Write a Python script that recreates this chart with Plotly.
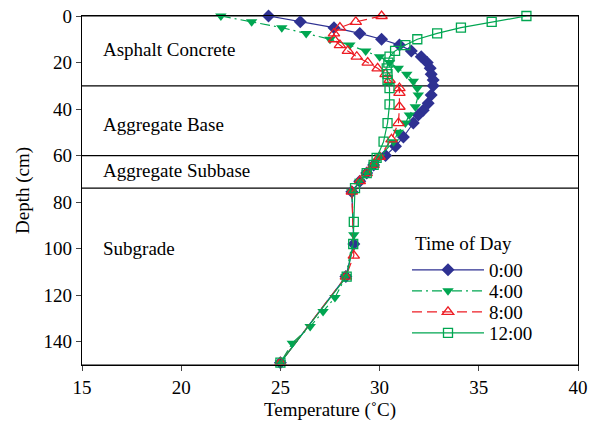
import plotly.graph_objects as go

# ---- data ----
depth_0000 = [0, 2.5, 5, 7.5, 10, 12.5, 15, 17.5, 20, 22.5, 25, 27.5, 30, 34, 37.5, 40.5, 42.5, 46, 52, 56, 60,
              64, 67.5, 71, 75.5, 98, 112, 149]
temp_0000 = [24.4, 26.0, 27.7, 29.0, 30.1, 31.0, 31.6, 32.1, 32.4, 32.55, 32.6, 32.7, 32.7, 32.6, 32.45, 32.2, 31.95,
             31.7, 31.2, 30.8, 30.3, 29.7, 29.35, 29.0, 28.6, 28.7, 28.3, 25.0]

depth_0400 = [0, 2.5, 5, 7.5, 10, 12.5, 15, 17.5, 20, 22.5, 25, 28, 31, 34, 39, 42.5, 46, 50, 54, 60.5,
              64, 67.5, 71, 75.5, 94, 112, 121, 127, 133.5, 140.6, 149]
temp_0400 = [22.0, 23.55, 25.07, 26.3, 27.5, 28.5, 29.3, 30.0, 30.5, 30.94, 31.37, 31.7, 31.9, 31.95, 31.8, 31.5,
             31.3, 30.94, 30.7, 30.0, 29.7, 29.35, 29.0, 28.6, 28.7, 28.3, 27.75, 27.15, 26.5, 25.6, 25.0]

depth_0800 = [0, 2.5, 5, 7.5, 10, 12.5, 15, 17.5, 20, 22.5, 25, 27.5, 31, 33, 39, 46, 53, 60.5,
              64, 67.5, 71, 75.5, 103, 112, 149]
temp_0800 = [30.1, 28.8, 28.0, 27.7, 27.7, 28.0, 28.4, 28.85, 29.4, 29.9, 30.3, 30.5, 31.0, 31.0, 31.0, 30.95,
             30.6, 30.0, 29.7, 29.35, 29.0, 28.6, 28.7, 28.3, 25.0]

depth_1200 = [0, 2.5, 5, 7.5, 10, 12.5, 15, 17.5, 20, 22.5, 25, 27.5, 31, 38, 46, 54, 61,
              64, 67.5, 74, 88.5, 98, 112, 149]
temp_1200 = [37.4, 35.65, 34.1, 32.9, 31.9, 31.3, 30.78, 30.5, 30.44, 30.36, 30.4, 30.4, 30.5, 30.5, 30.4, 30.2,
             29.85, 29.7, 29.35, 28.76, 28.7, 28.67, 28.34, 25.0]

series_names = ["0:00", "4:00", "8:00", "12:00"]

layer_bounds = [0, 30, 60, 74, 150]
layer_names = ["Asphalt Concrete", "Aggregate Base", "Aggregate Subbase", "Subgrade"]
layer_label_depths = [14.6, 46.8, 66.6, 100]
layer_label_temp = 15.95

x_ticks = [15, 20, 25, 30, 35, 40]
y_ticks = [0, 20, 40, 60, 80, 100, 120, 140]

# ---- styles / layout geometry (screen px, body margin removed) ----
FONT = "Liberation Serif"
FS = 19
NAVY = "#2E3192"
GREEN = "#00A651"
RED = "#ED1C24"

W, H = 592, 423
PX0, PX1, PY0, PY1 = 82, 578, 16, 365          # plot area on screen
L, T = PX0, PY0
R, B = W - PX1, H - PY1
PW, PH = PX1 - PX0, PY1 - PY0


def px(s):
    return (s - PX0) / PW


def py(s):
    return (PY1 - s) / PH


styles = [
    dict(line=dict(color=NAVY, width=1.2),
         marker=dict(symbol="diamond", size=10, color=NAVY, line=dict(width=0))),
    dict(line=dict(color=GREEN, width=1.2, dash="10px,4px,2px,4px"),
         marker=dict(symbol="triangle-down", size=10, color=GREEN, line=dict(width=0))),
    dict(line=dict(color=RED, width=1.2, dash="10px,5px"),
         marker=dict(symbol="triangle-up-open", size=10, color=RED, line=dict(width=1.3))),
    dict(line=dict(color=GREEN, width=1.2),
         marker=dict(symbol="square-open", size=9, color=GREEN, line=dict(width=1.3))),
]
series = [(temp_0000, depth_0000), (temp_0400, depth_0400), (temp_0800, depth_0800), (temp_1200, depth_1200)]
legend_ids = ["legend", "legend2", "legend3", "legend4"]
legend_rows = [270, 291, 312, 333]

fig = go.Figure()
for (xs, ys), name, st, lg in zip(series, series_names, styles, legend_ids):
    fig.add_trace(go.Scatter(x=xs, y=ys, name=name, mode="lines+markers", legend=lg, cliponaxis=False, **st))

for b in layer_bounds:
    fig.add_shape(type="line", xref="paper", x0=0, x1=1, yref="y", y0=b, y1=b,
                  line=dict(color="black", width=1.2), layer="below")

for name, d in zip(layer_names, layer_label_depths):
    fig.add_annotation(x=layer_label_temp, y=d, text=name, showarrow=False, xanchor="left", yanchor="middle",
                       font=dict(family=FONT, size=FS, color="black"))

fig.add_annotation(xref="paper", yref="paper", x=px(413), y=py(243),
                   text="Time of Day", showarrow=False, xanchor="left", yanchor="middle",
                   font=dict(family=FONT, size=FS, color="black"))

legend_common = dict(xanchor="left", yanchor="middle", bgcolor="rgba(0,0,0,0)",
                     font=dict(family=FONT, size=FS), itemwidth=72, borderwidth=0)
layout_legends = {}
for lg, row in zip(legend_ids, legend_rows):
    layout_legends[lg] = dict(x=px(407), y=py(row), **legend_common)

fig.update_layout(
    width=W, height=H,
    margin=dict(l=L, r=R, t=T, b=B, autoexpand=False),
    paper_bgcolor="white", plot_bgcolor="white",
    font=dict(family=FONT, size=FS, color="black"),
    showlegend=True,
    **layout_legends,
)

fig.update_xaxes(range=[15, 40], tickvals=x_ticks, ticks="outside", ticklen=5, tickwidth=1,
                 showline=True, linecolor="black", linewidth=1.2, mirror=True, showgrid=False, zeroline=False,
                 automargin=False,
                 title=dict(text="Temperature (˚C)", font=dict(family=FONT, size=FS), standoff=5),
                 tickfont=dict(family=FONT, size=FS))
fig.update_yaxes(range=[150, 0], tickvals=y_ticks, ticks="outside", ticklen=5, tickwidth=1,
                 showline=True, linecolor="black", linewidth=1.2, mirror=True, showgrid=False, zeroline=False,
                 automargin=False,
                 title=dict(text="Depth (cm)", font=dict(family=FONT, size=FS), standoff=8),
                 tickfont=dict(family=FONT, size=FS))

fig.write_html("out.html", config={"displayModeBar": False},
               post_script="document.body.style.margin='0px';document.body.style.overflow='hidden';")
